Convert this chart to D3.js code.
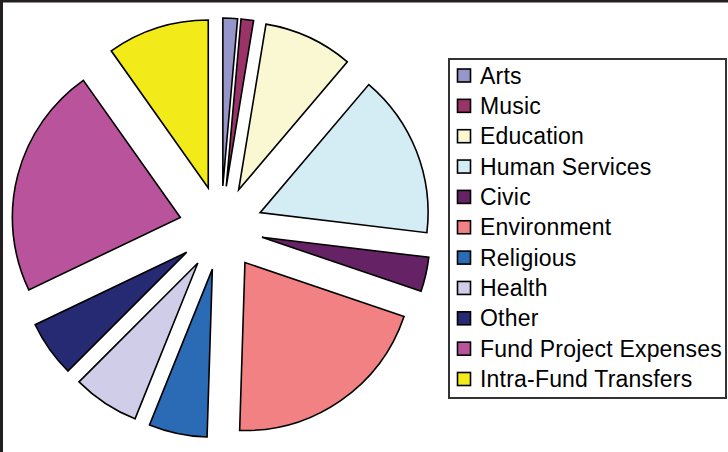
<!DOCTYPE html>
<html>
<head>
<meta charset="utf-8">
<script src="https://cdn.jsdelivr.net/npm/d3@7"></script>
<style>
  body { margin: 0; background: #fff; }
  svg text { font-family: "Liberation Sans", Arial, Helvetica, sans-serif; }
</style>
</head>
<body>
<div id="chart"></div>
<script>
// categorieen en waarden (procent van het totaal), met de klok mee vanaf boven
const categories = ["Arts", "Music", "Education", "Human Services", "Civic", "Environment",
  "Religious", "Health", "Other", "Fund Project Expenses", "Intra-Fund Transfers"]
const shares = [1.4, 1.2, 8.6, 15.7, 3.3, 20.3, 5.6, 6.4, 5.4, 22.3, 9.8]
const colors = ["#9696ca", "#9a3367", "#faf8d2", "#d4ecf3", "#652265", "#f28183",
  "#2b6ab4", "#cfcde7", "#262a72", "#b8539c", "#f2ea19"]

const width = 728
const height = 452
const center = {x: 221, y: 228}
const radius = 168
const explode = 42

const svg = d3.select("#chart")
  .append("svg")
    .attr("width", width)
    .attr("height", height)

// de rand links en boven
svg.append("path")
    .attr("d", "M1.5," + height + "V1H" + width)
    .attr("fill", "none")
    .attr("stroke", "#231f20")
    .attr("stroke-width", 3)

const data = categories.map(function(c, i) { return {name: c, value: shares[i], color: colors[i]} })

const pie = d3.pie()
    .sort(null)
    .value(function(d) { return d.value })

const arc = d3.arc()
    .innerRadius(0)
    .outerRadius(radius)

// teken de uitgeschoven taartpunten
svg.append("g")
    .attr("transform", "translate(" + center.x + "," + center.y + ")")
  .selectAll("path")
    .data(pie(data))
    .enter()
    .append("path")
    .attr("transform", function(d) {
      const mid = (d.startAngle + d.endAngle) / 2
      return "translate(" + (explode * Math.sin(mid)) + "," + (-explode * Math.cos(mid)) + ")"
    })
    .attr("d", arc)
    .attr("fill", function(d) { return d.data.color })
    .attr("stroke", "#000")
    .attr("stroke-width", 1.6)
    .attr("stroke-linejoin", "miter")

// legenda
const legendBox = {x: 449, y: 59, w: 277, h: 339}
const rowStep = 30.35
const legend = svg.append("g")

legend.append("rect")
    .attr("x", legendBox.x)
    .attr("y", legendBox.y)
    .attr("width", legendBox.w)
    .attr("height", legendBox.h)
    .attr("fill", "#fff")
    .attr("stroke", "#333")
    .attr("stroke-width", 2)

const rows = legend.selectAll("g.row")
    .data(data)
    .enter()
    .append("g")
    .attr("class", "row")
    .attr("transform", function(d, i) { return "translate(0," + (83.5 + i * rowStep) + ")" })

rows.append("rect")
    .attr("x", 457.5)
    .attr("y", -14.5)
    .attr("width", 13)
    .attr("height", 13)
    .attr("fill", function(d) { return d.color })
    .attr("stroke", "#000")
    .attr("stroke-width", 1.6)

rows.append("text")
    .attr("x", 480)
    .attr("y", 0)
    .attr("font-size", "23px")
    .attr("letter-spacing", "0.2px")
    .attr("fill", "#000")
    .text(function(d) { return d.name })
</script>
</body>
</html>
